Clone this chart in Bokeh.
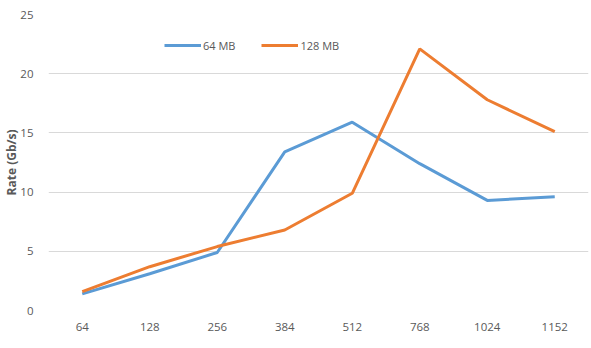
from bokeh.plotting import figure
from bokeh.models import FactorRange, Range1d, Legend, LegendItem, SingleIntervalTicker
from bokeh.embed import file_html
from bokeh.resources import INLINE

sizes = ["64", "128", "256", "384", "512", "768", "1024", "1152"]
rate_64mb = [1.4, 3.1, 4.9, 13.4, 15.9, 12.4, 9.3, 9.6]
rate_128mb = [1.6, 3.7, 5.4, 6.8, 9.9, 22.1, 17.8, 15.1]

FONT = "Open Sans"
GRAY = "#595959"

p = figure(width=591, height=348, x_range=FactorRange(*sizes, range_padding=0.0),
           y_range=Range1d(0, 25), output_backend="svg", toolbar_location=None,
           min_border_left=0, min_border_right=3, min_border_top=14, min_border_bottom=38)
p.x_range.factor_padding = 0
p.outline_line_color = None

l1 = p.line(sizes, rate_64mb, line_color="#5b9bd5", line_width=3)
l2 = p.line(sizes, rate_128mb, line_color="#ed7d31", line_width=3)

p.xgrid.grid_line_color = None
p.ygrid.grid_line_color = "#d9d9d9"
p.ygrid.grid_line_width = 1.2
p.yaxis.ticker = SingleIntervalTicker(interval=5)

for ax in (p.xaxis[0], p.yaxis[0]):
    ax.axis_line_color = None
    ax.major_tick_line_color = None
    ax.minor_tick_line_color = None
    ax.major_tick_out = 0
    ax.major_tick_in = 0
    ax.minor_tick_out = 0
    ax.minor_tick_in = 0
    ax.major_label_text_font = FONT
    ax.major_label_text_font_size = "11.5px"
    ax.major_label_text_color = GRAY

p.xaxis.major_label_standoff = 12
p.yaxis.major_label_standoff = 15
p.yaxis.axis_label = "Rate (Gb/s)"
p.yaxis.axis_label_text_font = FONT
p.yaxis.axis_label_text_font_style = "bold"
p.yaxis.axis_label_text_font_size = "12px"
p.yaxis.axis_label_text_color = GRAY
p.yaxis.axis_label_standoff = -3

legend = Legend(items=[LegendItem(label="64 MB", renderers=[l1]),
                       LegendItem(label="128 MB", renderers=[l2])],
                orientation="horizontal", location=(116, 255))
legend.border_line_color = None
legend.background_fill_alpha = 0
legend.padding = 0
legend.margin = 0
legend.spacing = 26
legend.glyph_width = 37
legend.label_standoff = 2
legend.label_text_font = FONT
legend.label_text_font_size = "11px"
legend.label_text_color = GRAY
p.add_layout(legend, "center")

open("out.html", "w").write(file_html(p, INLINE))
